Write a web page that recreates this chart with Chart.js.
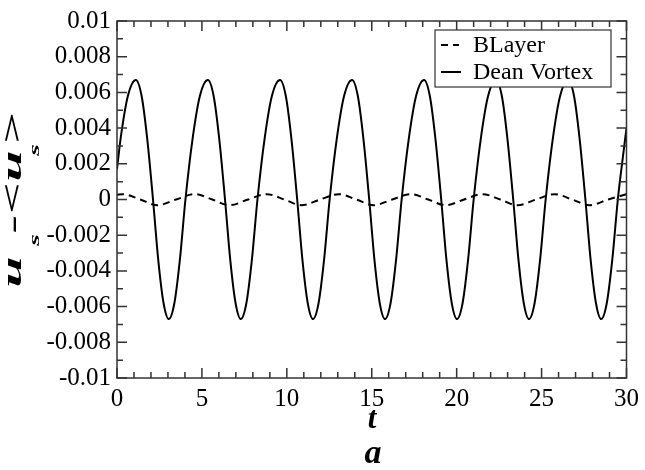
<!DOCTYPE html>
<html>
<head>
<meta charset="utf-8">
<script src="https://cdn.jsdelivr.net/npm/chart.js@4/dist/chart.umd.min.js"></script>
<style>
  html, body { margin: 0; padding: 0; background: #fff; }
  #wrap { width: 645px; height: 470px; position: relative; }
</style>
</head>
<body>
<div id="wrap"><canvas id="myChart"></canvas></div>
<script>
// values

const seriesLabels = ['BLayer', 'Dean Vortex'];

const xTickLabels = ['0', '5', '10', '15', '20', '25', '30'];
const yTickLabels = ['-0.01', '-0.008', '-0.006', '-0.004', '-0.002', '0',
  '0.002', '0.004', '0.006', '0.008', '0.01'];

// BLayer (dashed)
const blayerT = [0, 0.34, 1.37, 2.39, 3.48, 4.58, 5.61, 6.63, 7.72, 8.82, 9.85, 10.87,
  11.96, 13.06, 14.09, 15.11, 16.2, 17.3, 18.32, 19.34, 20.44, 21.54, 22.56, 23.58,
  24.68, 25.77, 26.8, 27.82, 28.92, 30];
const blayerU = [0.00026, 0.0003, 0, -0.00032, 0, 0.0003, 0, -0.00032, 0, 0.0003, 0, -0.00032,
  0, 0.0003, 0, -0.00032, 0, 0.0003, 0, -0.00032, 0, 0.0003, 0, -0.00032,
  0, 0.0003, 0, -0.00032, 0, 0.0003];

// Dean Vortex (solid)
const deanT = [0, 0.21, 0.64, 1.11, 1.45, 1.78, 2.12, 2.43, 2.74, 3.05, 3.38, 3.70, 4.03, 4.45, 4.88,
  5.35, 5.69, 6.02, 6.36, 6.67, 6.98, 7.29, 7.62, 7.94, 8.27, 8.69, 9.12,
  9.60, 9.94, 10.27, 10.61, 10.92, 11.23, 11.54, 11.87, 12.19, 12.52, 12.94, 13.37,
  13.84, 14.18, 14.51, 14.85, 15.16, 15.47, 15.78, 16.11, 16.43, 16.76, 17.18, 17.61,
  18.08, 18.42, 18.75, 19.09, 19.40, 19.71, 20.02, 20.35, 20.67, 21.00, 21.42, 21.85,
  22.32, 22.66, 22.99, 23.33, 23.64, 23.95, 24.26, 24.59, 24.91, 25.24, 25.66, 26.09,
  26.57, 26.91, 27.24, 27.58, 27.89, 28.20, 28.51, 28.84, 29.16, 29.49, 29.75, 30];
const deanU = [0.0017, 0.0034, 0.0058, 0.0067, 0.0058, 0.0034, 0, -0.0034, -0.0058, -0.0067, -0.0058, -0.0034, 0, 0.0034, 0.0058,
  0.0067, 0.0058, 0.0034, 0, -0.0034, -0.0058, -0.0067, -0.0058, -0.0034, 0, 0.0034, 0.0058,
  0.0067, 0.0058, 0.0034, 0, -0.0034, -0.0058, -0.0067, -0.0058, -0.0034, 0, 0.0034, 0.0058,
  0.0067, 0.0058, 0.0034, 0, -0.0034, -0.0058, -0.0067, -0.0058, -0.0034, 0, 0.0034, 0.0058,
  0.0067, 0.0058, 0.0034, 0, -0.0034, -0.0058, -0.0067, -0.0058, -0.0034, 0, 0.0034, 0.0058,
  0.0067, 0.0058, 0.0034, 0, -0.0034, -0.0058, -0.0067, -0.0058, -0.0034, 0, 0.0034, 0.0058,
  0.0067, 0.0058, 0.0034, 0, -0.0034, -0.0058, -0.0067, -0.0058, -0.0034, 0, 0.0021, 0.0040];

const serif = '"Liberation Serif", "DejaVu Serif", serif';

function pairs(xs, ys) {
  return xs.map((t, i) => ({ x: t, y: ys[i] }));
}

// frame, inward ticks, legend box and axis titles
const framePlugin = {
  id: 'frame',
  afterDraw(chart) {
    const ctx = chart.ctx;
    const a = chart.chartArea;
    const xs = chart.scales.x, ys = chart.scales.y;
    ctx.save();
    ctx.strokeStyle = '#333';
    ctx.lineWidth = 1.5;
    ctx.beginPath();
    for (let v = 0; v <= 30; v++) {
      const px = xs.getPixelForValue(v);
      const len = v % 5 === 0 ? 10 : 6;
      ctx.moveTo(px, a.bottom); ctx.lineTo(px, a.bottom - len);
      ctx.moveTo(px, a.top); ctx.lineTo(px, a.top + len);
    }
    for (let i = -10; i <= 10; i++) {
      const py = ys.getPixelForValue(i / 1000);
      const len = i % 2 === 0 ? 10 : 6;
      ctx.moveTo(a.left, py); ctx.lineTo(a.left + len, py);
      ctx.moveTo(a.right, py); ctx.lineTo(a.right - len, py);
    }
    ctx.stroke();
    ctx.strokeRect(a.left, a.top, a.right - a.left, a.bottom - a.top);

    // legend
    ctx.fillStyle = '#fff';
    ctx.fillRect(435, 30, 176, 57);
    ctx.strokeStyle = '#333';
    ctx.lineWidth = 1.2;
    ctx.strokeRect(435, 30, 176, 57);
    const rows = [45, 72];
    chart.data.datasets.forEach((ds, i) => {
      ctx.strokeStyle = ds.borderColor;
      ctx.lineWidth = 2;
      ctx.setLineDash(ds.borderDash || []);
      ctx.beginPath();
      ctx.moveTo(441, rows[i]);
      ctx.lineTo(i === 0 ? 459 : 461, rows[i]);
      ctx.stroke();
      ctx.setLineDash([]);
      ctx.fillStyle = '#000';
      ctx.font = '24px ' + serif;
      ctx.textAlign = 'left';
      ctx.textBaseline = 'middle';
      ctx.fillText(ds.label, 473, rows[i] + 1);
    });

    // x title and panel letter
    ctx.fillStyle = '#000';
    ctx.textAlign = 'center';
    ctx.textBaseline = 'alphabetic';
    ctx.font = 'italic bold 31px ' + serif;
    ctx.fillText('t', 372, 428);
    ctx.font = 'italic bold 34px ' + serif;
    ctx.fillText('a', 373, 463);

    // y title u_s-<u_s>, stretched along the reading direction
    const glyphs = [
      { c: 'u', y: 272, size: 28, base: 21 },
      { c: 's', y: 240, size: 15, base: 39 },
      { c: '-', y: 224, size: 28, base: 21 },
      { c: '<', y: 198, size: 28, base: 21 },
      { c: 'u', y: 166, size: 28, base: 21 },
      { c: 's', y: 150, size: 15, base: 39 },
      { c: '>', y: 129, size: 28, base: 21 }
    ];
    glyphs.forEach(g => {
      ctx.save();
      ctx.translate(g.base, g.y);
      ctx.rotate(-Math.PI / 2);
      ctx.scale(2, 1);
      ctx.font = 'italic bold ' + g.size + 'px ' + serif;
      ctx.fillText(g.c, 0, 0);
      ctx.restore();
    });
    ctx.restore();
  }
};

const data = {
  datasets: [{
    label: seriesLabels[0],
    data: pairs(blayerT, blayerU),
    borderColor: '#000',
    borderWidth: 2,
    borderDash: [7, 5],
    pointRadius: 0,
    cubicInterpolationMode: 'monotone',
    fill: false
  }, {
    label: seriesLabels[1],
    data: pairs(deanT, deanU),
    borderColor: '#000',
    borderWidth: 2,
    pointRadius: 0,
    cubicInterpolationMode: 'monotone',
    fill: false
  }]
};

const config = {
  type: 'line',
  data: data,
  options: {
    responsive: true,
    maintainAspectRatio: false,
    animation: false,
    devicePixelRatio: 1,
    layout: { padding: { top: 17, right: 15, bottom: 0, left: 0 } },
    plugins: { legend: { display: false }, tooltip: { enabled: false } },
    scales: {
      x: {
        type: 'linear',
        min: 0, max: 30,
        grid: { display: false, drawTicks: false },
        border: { display: false },
        afterFit: s => { s.height = 92; },
        ticks: {
          stepSize: 5,
          padding: 6,
          color: '#000',
          font: { family: serif, size: 25 },
          maxRotation: 0,
          callback: (v, i) => xTickLabels[i]
        }
      },
      y: {
        type: 'linear',
        min: -0.01, max: 0.01,
        grid: { display: false, drawTicks: false },
        border: { display: false },
        afterFit: s => { s.width = 117; },
        ticks: {
          stepSize: 0.002,
          padding: 6,
          color: '#000',
          font: { family: serif, size: 25 },
          callback: (v, i) => yTickLabels[i]
        }
      }
    }
  },
  plugins: [framePlugin]
};

const myChart = new Chart(document.getElementById('myChart'), config);
</script>
</body>
</html>
